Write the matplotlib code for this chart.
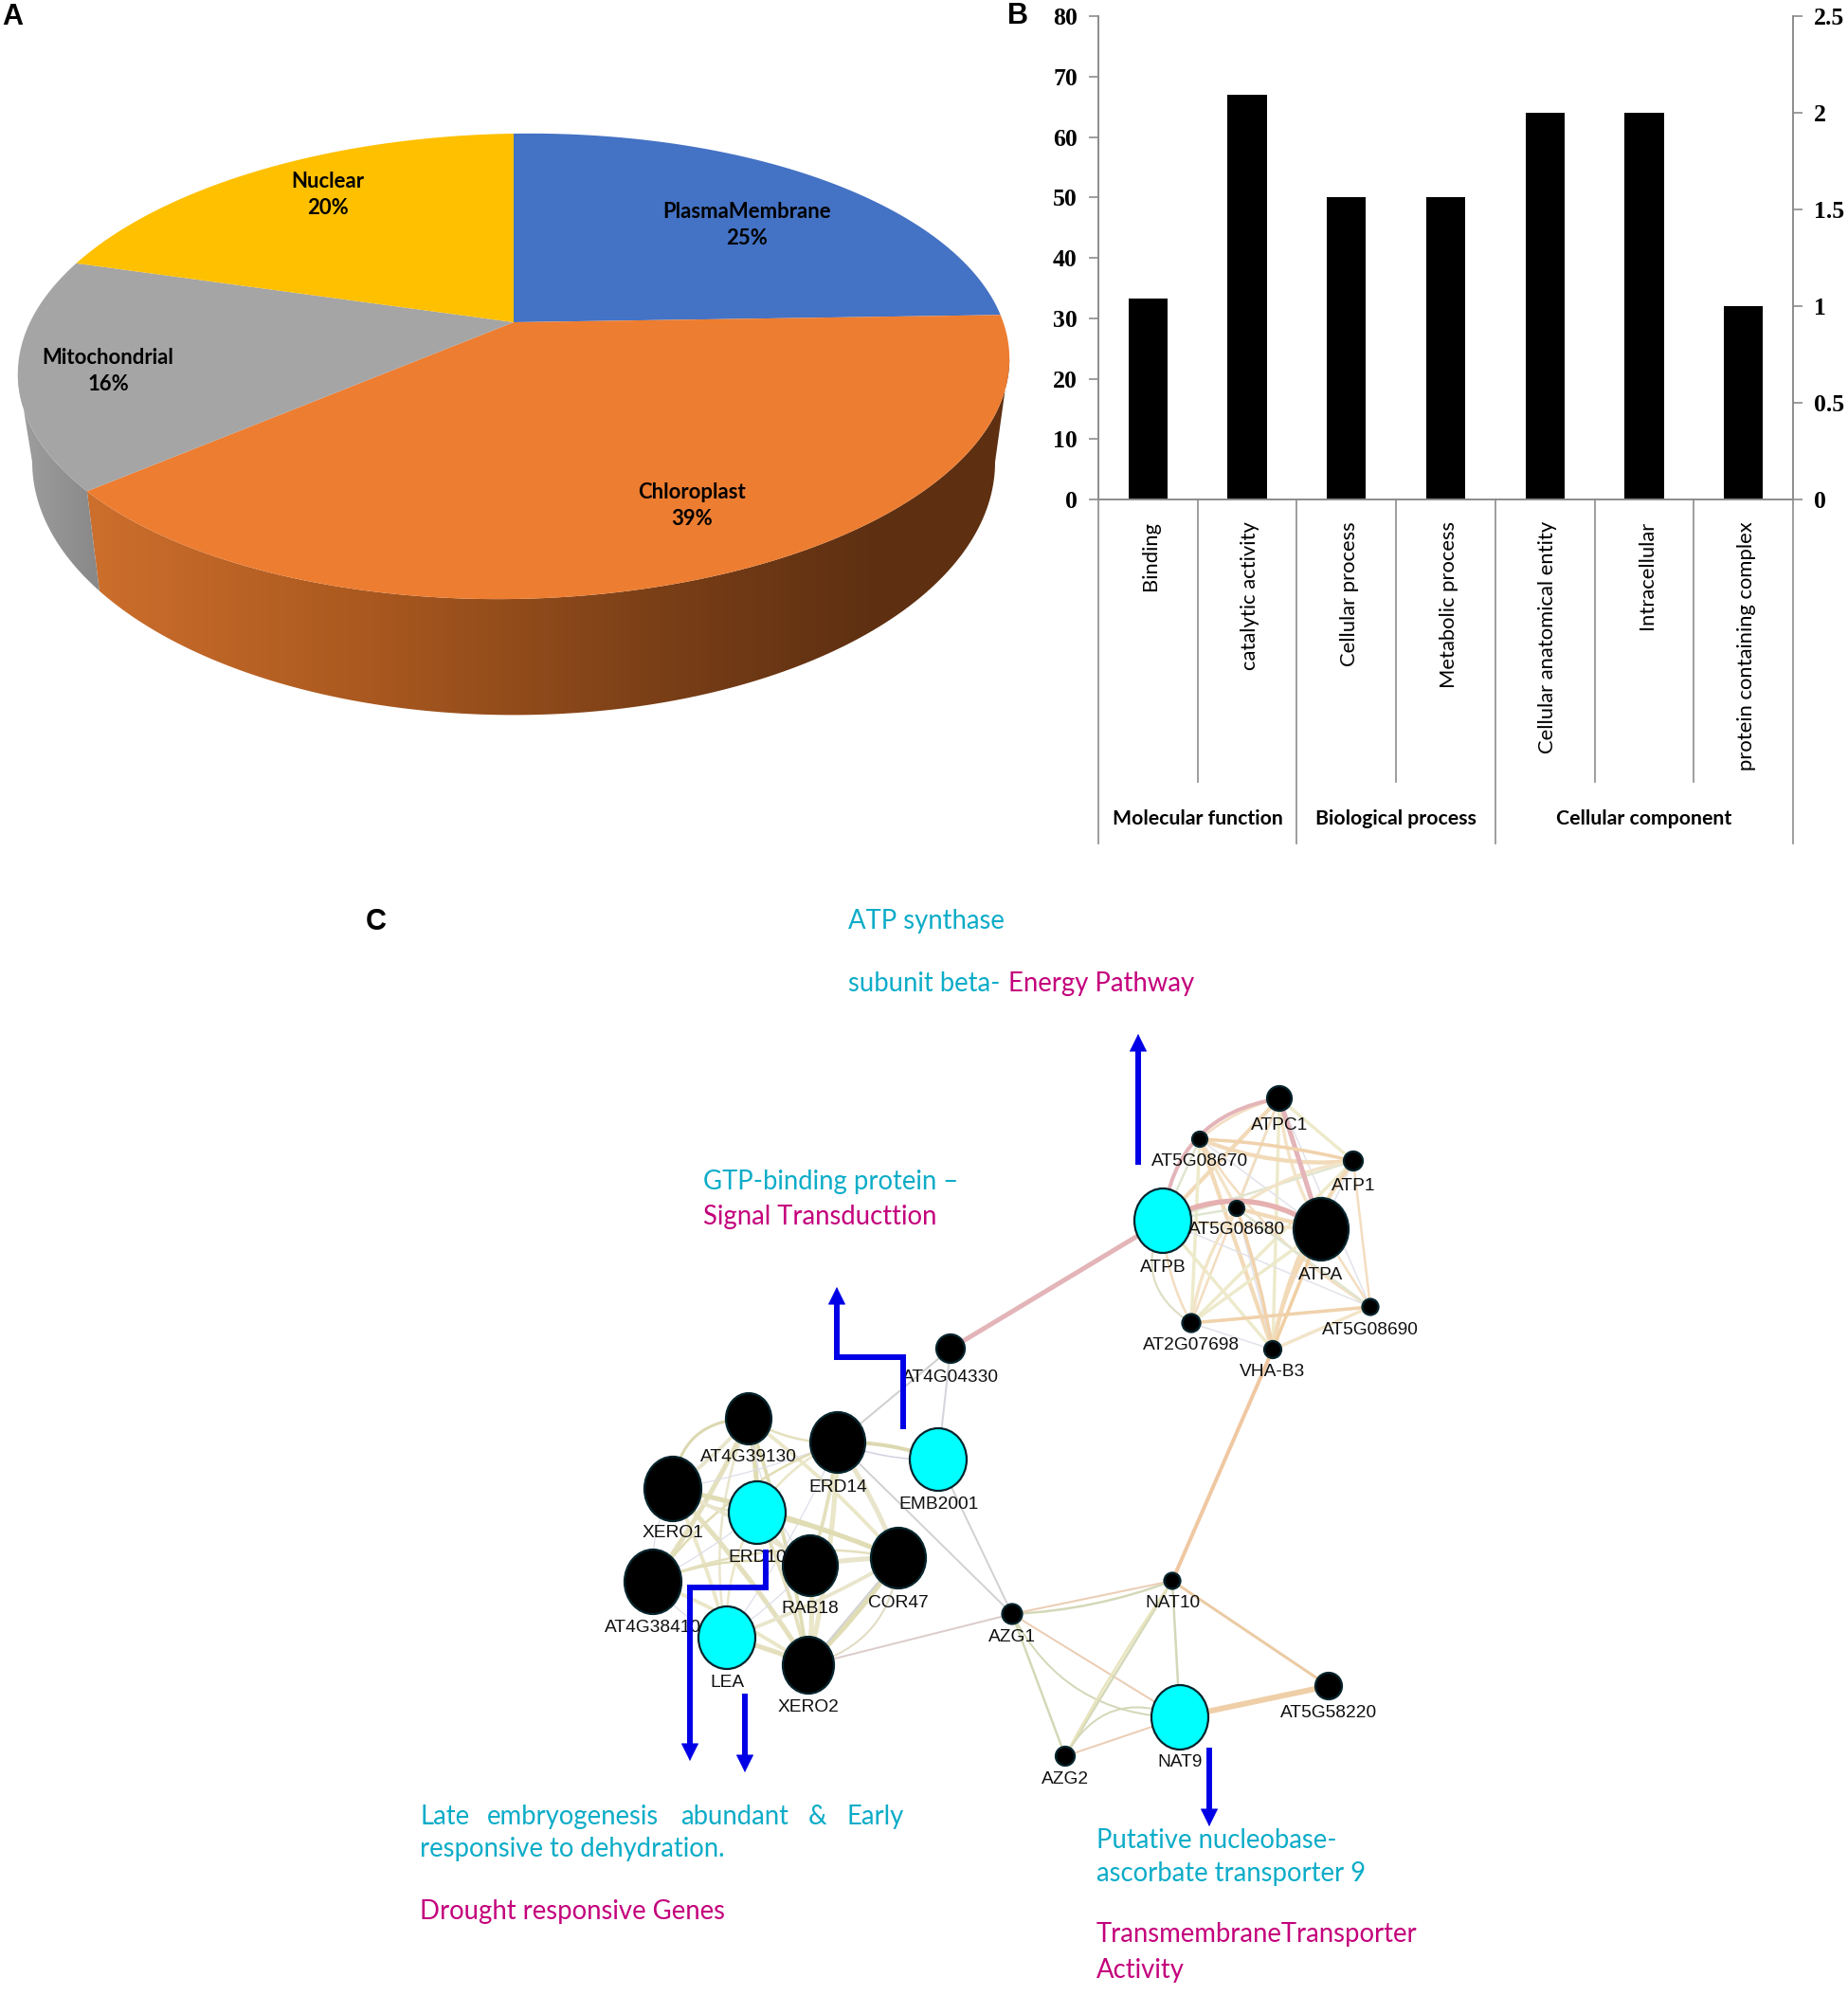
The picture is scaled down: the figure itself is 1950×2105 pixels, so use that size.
#! /usr/bin/env python
# three panel figure: 3D style pie, GO bar chart and gene network
from itertools import combinations

import numpy as np
import matplotlib
matplotlib.use('Agg')
import matplotlib.pyplot as plt
from matplotlib.colors import LinearSegmentedColormap
from matplotlib.patches import Ellipse, FancyArrowPatch, Polygon

W, H = 1950, 2105

# panel A
pie_labels = ['PlasmaMembrane', 'Chloroplast', 'Mitochondrial', 'Nuclear']
pie_values = [25, 39, 16, 20]
pie_colors = ['#4472C4', '#ED7D31', '#A5A5A5', '#FFC000']
pie_label_xy = [(788, 223), (730, 520), (114, 377), (346, 192)]

# panel B
go_terms = ['Binding', 'catalytic activity', 'Cellular process', 'Metabolic process',
            'Cellular anatomical entity', 'Intracellular', 'protein containing complex']
go_values = [33.3, 67, 50, 50, 64, 64, 32]
go_groups = ['Molecular function', 'Biological process', 'Cellular component']
go_group_edges = [0, 2, 4, 7]
left_ticks = [0, 10, 20, 30, 40, 50, 60, 70, 80]
right_ticks = [0, 0.5, 1, 1.5, 2, 2.5]
right_ticklabels = ['0', '0.5', '1', '1.5', '2', '2.5']

# panel C: name -> x, y, rx, ry, label y, highlighted
nodes = {
    'ATPC1': (1350, 1159, 13, 13, 1187, False),
    'AT5G08670': (1266, 1202, 8, 8, 1225, False),
    'ATP1': (1428, 1225, 10, 10, 1252, False),
    'ATPB': (1227, 1288, 30, 34, 1337, True),
    'AT5G08680': (1305, 1275, 8, 8, 1297, False),
    'ATPA': (1394, 1297, 29, 33, 1345, False),
    'AT5G08690': (1446, 1379, 8.5, 8.5, 1403, False),
    'AT2G07698': (1257, 1396, 9.5, 9.5, 1419, False),
    'VHA-B3': (1343, 1424, 9, 9, 1447, False),
    'AT4G04330': (1003, 1423, 15, 15, 1454, False),
    'AT4G39130': (790, 1497, 24, 27, 1538, False),
    'ERD14': (884, 1522, 29, 32, 1569, False),
    'EMB2001': (990, 1540, 30, 33, 1588, True),
    'XERO1': (710, 1571, 30, 34, 1618, False),
    'ERD10': (799, 1596, 30, 33, 1644, True),
    'RAB18': (855, 1652, 29, 32, 1697, False),
    'COR47': (948, 1644, 29, 32, 1691, False),
    'AT4G38410': (689, 1669, 30, 34, 1717, False),
    'LEA': (767, 1728, 30, 33, 1775, True),
    'XERO2': (853, 1757, 27, 30, 1801, False),
    'AZG1': (1068, 1703, 10.5, 10.5, 1728, False),
    'NAT10': (1237, 1668, 8.5, 8.5, 1691, False),
    'AT5G58220': (1402, 1779, 14, 14, 1808, False),
    'NAT9': (1245, 1812, 30, 34, 1859, True),
    'AZG2': (1124, 1853, 10, 10, 1878, False),
}
atp_cluster = ['ATPC1', 'AT5G08670', 'ATP1', 'ATPB', 'AT5G08680', 'ATPA',
               'AT5G08690', 'AT2G07698', 'VHA-B3']
lea_cluster = ['AT4G39130', 'ERD14', 'XERO1', 'ERD10', 'RAB18', 'COR47',
               'AT4G38410', 'LEA', 'XERO2']
# from, to, colour, width, curvature
strong_edges = [
    ('ATPB', 'AT4G04330', '#E3B4B8', 5.0, 0),
    ('ATPB', 'ATPC1', '#E3B4B8', 4.0, -0.38),
    ('ATPB', 'ATPA', '#E6B0B0', 5.5, -0.3),
    ('ATPC1', 'ATPA', '#E3B4B8', 5.0, 0),
    ('ATPB', 'AT2G07698', '#DCDCC0', 2.0, 0.45),
    ('AT5G08670', 'ATP1', '#F0D2AC', 3.5, -0.05),
    ('AT2G07698', 'AT5G08690', '#F0D2AC', 3.5, 0),
    ('VHA-B3', 'ATPA', '#F0CFA4', 3.5, 0),
    ('VHA-B3', 'AT5G08680', '#F0D2AC', 3.5, 0.04),
    ('VHA-B3', 'NAT10', '#EFC8A2', 4.0, 0),
    ('NAT9', 'AT5G58220', '#EFCFA8', 6.0, 0),
    ('NAT10', 'AT5G58220', '#EBCBA4', 3.0, 0),
    ('AZG1', 'NAT10', '#EBCDB4', 2.0, 0),
    ('AZG1', 'NAT10', '#D5D8B8', 2.5, 0.08),
    ('AZG1', 'NAT9', '#EBCDB4', 2.0, 0),
    ('AZG1', 'NAT9', '#D5D8B8', 2.0, 0.3),
    ('AZG1', 'AZG2', '#D5D8B8', 2.5, 0),
    ('NAT10', 'NAT9', '#D5D8B8', 2.5, 0),
    ('NAT10', 'AZG2', '#D5D8B8', 2.5, 0),
    ('NAT10', 'AZG2', '#E8E4BC', 2.5, 0.03),
    ('NAT9', 'AZG2', '#EBCDB4', 2.0, 0),
    ('NAT9', 'AZG2', '#D5D8B8', 2.0, 0.45),
    ('ERD14', 'AT4G04330', '#CFCFCF', 2.0, 0),
    ('EMB2001', 'AT4G04330', '#D4D4DC', 2.0, 0),
    ('EMB2001', 'ERD14', '#DCD8B0', 4.0, 0.1),
    ('EMB2001', 'ERD14', '#D0D0E0', 1.5, -0.1),
    ('EMB2001', 'AZG1', '#D2D2D2', 2.0, 0),
    ('ERD14', 'AZG1', '#D2D2D2', 2.0, 0),
    ('XERO2', 'AZG1', '#DCCCCC', 2.0, 0),
    ('XERO2', 'COR47', '#D2D2D2', 2.0, 0),
    ('XERO2', 'COR47', '#E0DCC4', 2.0, 0.35),
    ('XERO1', 'AT4G39130', '#DCD8B0', 3.0, -0.45),
]
atp_colors = ['#F3DDC0', '#EDEACB', '#F2DAB8', '#E0E5D0', '#F3E4C8', '#E2E2EA']
lea_colors = ['#E4E0BE', '#E8E5CC', '#E0DCB4', '#DDDDEA', '#EAE6C8']

# blue arrows, the last point is the tip
arrows = [
    [(1201, 1229), (1201, 1091)],
    [(953, 1508), (953, 1432), (883, 1432), (883, 1358)],
    [(808, 1635), (808, 1675), (728, 1675), (728, 1858)],
    [(786, 1787), (786, 1870)],
    [(1276, 1844), (1276, 1927)],
]

CYAN = '#0CACC8'
MAGENTA = '#C4007C'
notes = [
    (895, 972, 'ATP synthase', CYAN),
    (895, 1038, 'subunit beta-', CYAN),
    (1064, 1038, 'Energy Pathway', MAGENTA),
    (742, 1247, 'GTP-binding protein –', CYAN),
    (742, 1284, 'Signal Transducttion', MAGENTA),
    (444, 1917, 'Late', CYAN),
    (514, 1917, 'embryogenesis', CYAN),
    (718, 1917, 'abundant', CYAN),
    (853, 1917, '&', CYAN),
    (893, 1917, 'Early', CYAN),
    (443, 1951, 'responsive to dehydration.', CYAN),
    (443, 2017, 'Drought responsive Genes', MAGENTA),
    (1157, 1942, 'Putative nucleobase-', CYAN),
    (1157, 1977, 'ascorbate transporter 9', CYAN),
    (1157, 2041, 'TransmembraneTransporter', MAGENTA),
    (1157, 2079, 'Activity', MAGENTA),
]

TILT = 0.1894


def pie_point(theta, shear=0.015):
    # circle seen in perspective, theta runs clockwise from the top
    f = 1.0 / (1 + TILT * np.cos(theta))
    x = 513.7 * np.sin(theta) * f
    y = -236.7 * np.cos(theta) * f - shear * x
    return 542 + x, 340 + y


def pie_side_point(theta):
    x, y = pie_point(theta, shear=0)
    return 542 + (x - 542) * 0.971, 437 + (y - 340) * 1.087


def draw_side(ax, start, end, cmap, x0, x1):
    theta = np.linspace(start, end, 200)
    tx, ty = pie_point(theta)
    bx, by = pie_side_point(theta)
    poly = Polygon(np.r_[np.c_[tx, ty], np.c_[bx, by][::-1]], closed=True,
                   facecolor='none', edgecolor='none')
    ax.add_patch(poly)
    gradient = np.linspace(0, 1, 256).reshape(1, -1)
    img = ax.imshow(gradient, cmap=cmap, extent=(x0, x1, 800, 300), aspect='auto', zorder=1)
    img.set_clip_path(poly)


def plot_pie(ax):
    edges = np.radians(np.cumsum([0] + pie_values) * 3.6)
    # the side starts and stops where the outline is widest
    widest = np.arccos(-TILT)
    orange = LinearSegmentedColormap.from_list(
        'side', [(0, '#CC6E2C'), (0.04, '#CC6E2C'), (0.33, '#A9581F'), (0.63, '#7A3F17'),
                 (0.85, '#5F3012'), (1, '#5E3011')])
    grey = LinearSegmentedColormap.from_list('greyside', ['#A0A0A0', '#848484'])
    draw_side(ax, widest, edges[2], orange, 60, 1070)
    draw_side(ax, edges[2], 2 * np.pi - widest, grey, 15, 120)
    for i in range(len(pie_values)):
        theta = np.linspace(edges[i], edges[i + 1], 200)
        x, y = pie_point(theta)
        pts = np.r_[[[542, 340]], np.c_[x, y]]
        ax.add_patch(Polygon(pts, closed=True, facecolor=pie_colors[i], edgecolor='none', zorder=2))
        lx, ly = pie_label_xy[i]
        ax.text(lx, ly, pie_labels[i], ha='center', va='center', family='Lato',
                weight='bold', size=15.9, zorder=3)
        ax.text(lx, ly + 28, '%d%%' % pie_values[i], ha='center', va='center', family='Lato',
                weight='bold', size=15.9, zorder=3)


def plot_bars(fig):
    ax = fig.add_axes([1159 / W, 1 - 527 / H, 733 / W, 510 / H])
    x = np.arange(len(go_values)) + 0.5
    ax.bar(x, go_values, width=0.395, color='black')
    ax.set_xlim(0, len(go_values))
    ax.set_ylim(0, 80)
    ax.set_xticks([])
    ax.set_yticks(left_ticks)
    ax2 = ax.twinx()
    ax2.set_ylim(0, 2.5)
    ax2.set_yticks(right_ticks)
    ax2.set_yticklabels(right_ticklabels)
    for a in (ax, ax2):
        for name, spine in a.spines.items():
            spine.set_color('#8C8C8C')
            spine.set_linewidth(1.2)
        a.spines['top'].set_visible(False)
        a.tick_params(axis='y', length=7, width=1.2, color='#8C8C8C', pad=9)
        for lab in a.get_yticklabels():
            lab.set_family('Liberation Serif')
            lab.set_weight('bold')
            lab.set_size(18.5)

    # axes fraction for the two divider lengths under the plot
    short = -(825 - 527) / 510
    long = -(890 - 527) / 510
    trans = ax.get_xaxis_transform()
    for i in range(len(go_values) + 1):
        low = long if i in go_group_edges else short
        ax.plot([i, i], [0, low], color='#8C8C8C', lw=1.2, transform=trans, clip_on=False)
    for xi, term in zip(x, go_terms):
        ax.text(xi + 0.03, -(550 - 527) / 510, term, rotation=90, ha='center', va='top',
                family='Lato', size=15.8, transform=trans)
    for i, group in enumerate(go_groups):
        mid = (go_group_edges[i] + go_group_edges[i + 1]) / 2
        ax.text(mid, -(864 - 527) / 510, group, ha='center', va='center', family='Lato',
                weight='bold', size=15.3, transform=trans)


def add_edge(ax, a, b, color, width, rad=0, zorder=4):
    pa = nodes[a][:2]
    pb = nodes[b][:2]
    ax.add_patch(FancyArrowPatch(pa, pb, arrowstyle='-', connectionstyle='arc3,rad=%g' % rad,
                                 color=color, lw=width * 0.72, shrinkA=0, shrinkB=0, zorder=zorder))


def plot_network(ax):
    for i, (a, b) in enumerate(combinations(atp_cluster, 2)):
        color = atp_colors[i % len(atp_colors)]
        width = 1.5 if i % len(atp_colors) == 5 else 2.5 + (i % 3) * 0.9
        add_edge(ax, a, b, color, width, rad=(0.12 if i % 4 == 0 else 0))
    for i, (a, b) in enumerate(combinations(lea_cluster, 2)):
        color = lea_colors[i % len(lea_colors)]
        width = 1.2 if i % len(lea_colors) == 3 else 2.5 + (i % 3) * 1.3
        add_edge(ax, a, b, color, width, rad=(0.15 if i % 3 == 0 else -0.05))
    for a, b, color, width, rad in strong_edges:
        add_edge(ax, a, b, color, width, rad)

    for name, (x, y, rx, ry, ly, hit) in nodes.items():
        face = '#00FFFF' if hit else 'black'
        ax.add_patch(Ellipse((x, y), 2 * rx, 2 * ry, facecolor=face, edgecolor='#06242C',
                             lw=1.6, zorder=5))
    for name, (x, y, rx, ry, ly, hit) in nodes.items():
        ax.text(x, ly, name, ha='center', va='center', family='Liberation Sans', size=13.8,
                color='#101010', zorder=6)

    for path in arrows:
        tip = np.array(path[-1], dtype=float)
        prev = np.array(path[-2], dtype=float)
        neck = tip - (tip - prev) / np.linalg.norm(tip - prev) * 12
        xs, ys = zip(*(path[:-1] + [tuple(neck)]))
        ax.plot(xs, ys, color='#0000E6', lw=4.3, solid_joinstyle='miter',
                solid_capstyle='butt', zorder=7)
        ax.annotate('', xy=path[-1], xytext=tuple(neck), zorder=7,
                    arrowprops=dict(arrowstyle='-|>,head_length=1.25,head_width=0.62', mutation_scale=10,
                                    color='#0000E6', lw=0.5, shrinkA=0, shrinkB=0))
    for x, y, text, color in notes:
        ax.text(x, y, text, color=color, ha='left', va='center', family='Lato', size=19.8)


def main(outfile='out.png'):
    fig = plt.figure(figsize=(W / 100, H / 100), dpi=100, facecolor='white')
    plot_bars(fig)
    ax = fig.add_axes([0, 0, 1, 1], facecolor='none')
    plot_pie(ax)
    plot_network(ax)
    ax.set_xlim(0, W)
    ax.set_ylim(H, 0)
    ax.axis('off')
    for x, y, letter in [(13, 18, 'A'), (1074, 17, 'B'), (397, 973, 'C')]:
        ax.text(x, y, letter, ha='center', va='center', family='Liberation Sans',
                weight='bold', size=22)
    fig.savefig(outfile, dpi=100)


if __name__ == "__main__":
    main()
